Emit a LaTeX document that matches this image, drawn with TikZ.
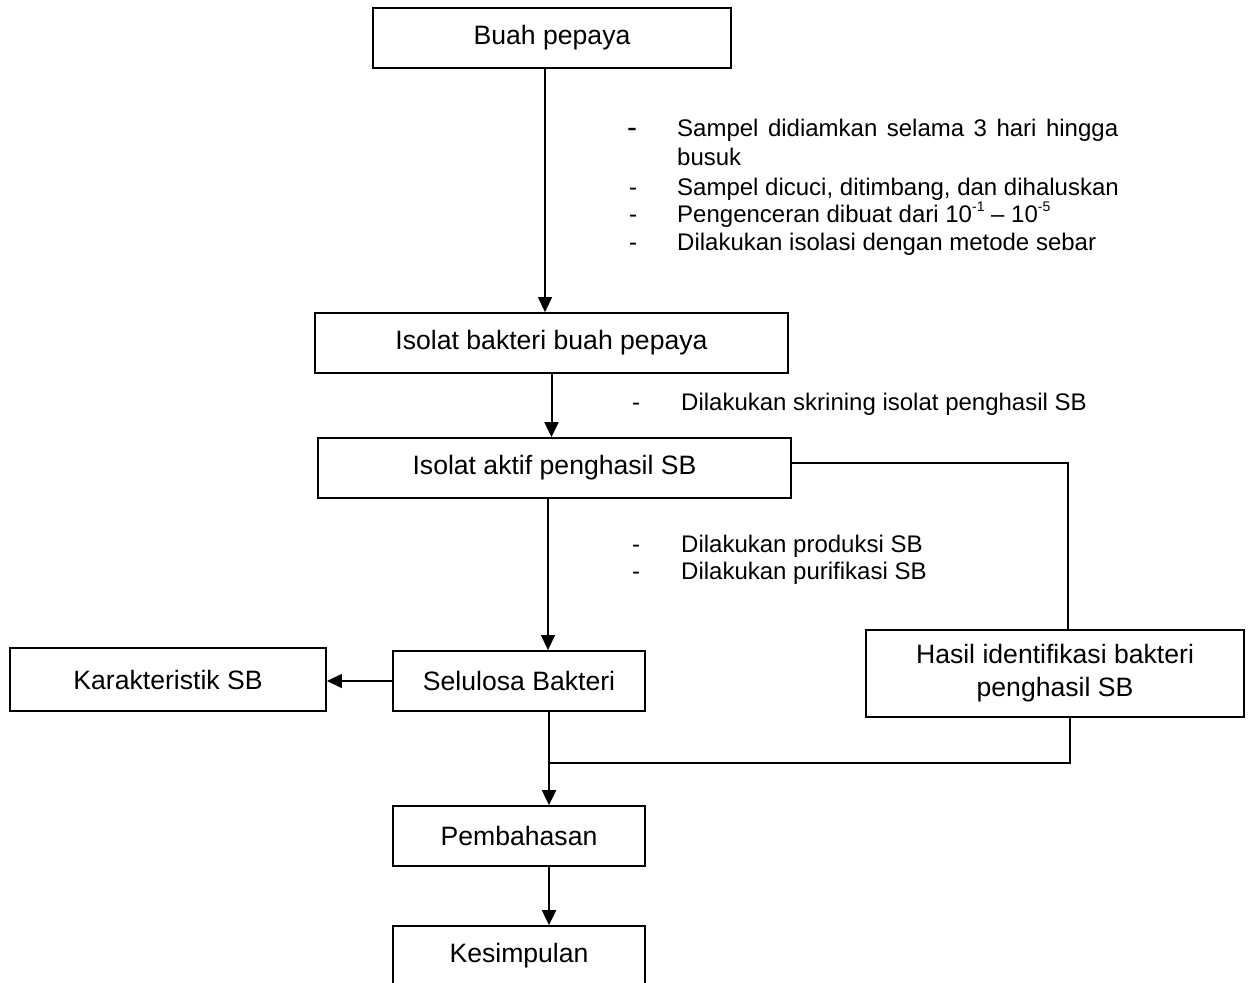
\documentclass[tikz,border=0pt]{standalone}
\usepackage{fontspec}
\setmainfont{Liberation Sans}
\usetikzlibrary{arrows.meta,calc}
\newcommand{\supx}[1]{\raisebox{0.45em}{\fontsize{14}{14}\selectfont #1}}
\begin{document}
\begin{tikzpicture}[x=1pt,y=-1pt,
  box/.style={draw,line width=1.8pt,inner sep=0pt,font=\fontsize{26.6}{33}\selectfont,align=center},
  thin/.style={line width=1.3pt},
  thick/.style={line width=2pt},
  arr/.style={-{Triangle[length=15pt,width=14pt]}},
  note/.style={anchor=base west,inner sep=0pt,font=\fontsize{24}{28}\selectfont},
  dashm/.style={anchor=base,inner sep=0pt,font=\fontsize{24}{28}\selectfont}]
\useasboundingbox (0,0) rectangle (1249,982);
% boxes
\node[box,minimum width=358pt,minimum height=60pt] (buah) at (552,38) {Buah pepaya};
\node[box,minimum width=473pt,minimum height=60pt] (iso) at (551.5,343) {Isolat bakteri buah pepaya};
\node[box,minimum width=473pt,minimum height=60pt] (akt) at (554.5,468) {Isolat aktif penghasil SB};
\node[box,minimum width=316pt,minimum height=63pt] (kar) at (168,679.5) {Karakteristik SB};
\node[box,minimum width=252pt,minimum height=60pt] (sel) at (519,681) {Selulosa Bakteri};
\node[box,minimum width=378pt,minimum height=87pt] (has) at (1055,673.5) {Hasil identifikasi bakteri\\penghasil SB};
\node[box,minimum width=252pt,minimum height=60pt] (pem) at (519,836) {Pembahasan};
\node[box,minimum width=252pt,minimum height=60pt] (kes) at (519,956) {Kesimpulan};
% connectors
\coordinate (c1) at (545,0);
\draw[thin,arr] (buah.south -| c1) -- (iso.north -| c1);
\draw[thick,arr] (iso.south) -- (iso.south |- akt.north);
\coordinate (c2) at (548,0);
\draw[thin,arr] (akt.south -| c2) -- (sel.north -| c2);
\draw[thin,arr] (sel.west) -- (kar.east |- sel.west);
\coordinate (c3) at (1068,463);
\draw[thin] (akt.east |- c3) -- (c3) -- (has.north -| c3);
\coordinate (c4) at (1070,763);
\coordinate (c5) at (549,0);
\draw[thin] (has.south -| c4) -- (c4) -- (c4 -| c5);
\draw[thick,arr] (sel.south -| c5) -- (pem.north -| c5);
\draw[thick,arr] (pem.south -| c5) -- (kes.north -| c5);
% annotations group 1
\node[dashm,font=\fontsize{30}{30}\selectfont] (d1) at (632,137) {-};
\node[note] (t1a) at (677,136) {\hbox to 441pt{Sampel\hfil didiamkan\hfil selama\hfil 3\hfil hari\hfil hingga}};
\node[note] (t1b) at (677,165) {busuk};
\node[dashm] (d2) at (633,195.5) {-};
\node[note] (t2) at (677,195.5) {Sampel dicuci, ditimbang, dan dihaluskan};
\node[dashm] (d3) at (633,222.5) {-};
\node[note] (t3) at (677,222.5) {Pengenceran dibuat dari 10\supx{-1} – 10\supx{-5}};
\node[dashm] (d4) at (633,250) {-};
\node[note] (t4) at (677,250) {Dilakukan isolasi dengan metode sebar};
% group 2
\node[dashm] (d5) at (636,410) {-};
\node[note] (t5) at (681,410) {Dilakukan skrining isolat penghasil SB};
% group 3
\node[dashm] (d6) at (636,552) {-};
\node[note] (t6) at (681,552) {Dilakukan produksi SB};
\node[dashm] (d7) at (636,579) {-};
\node[note] (t7) at (681,579) {Dilakukan purifikasi SB};
\end{tikzpicture}
\end{document}
